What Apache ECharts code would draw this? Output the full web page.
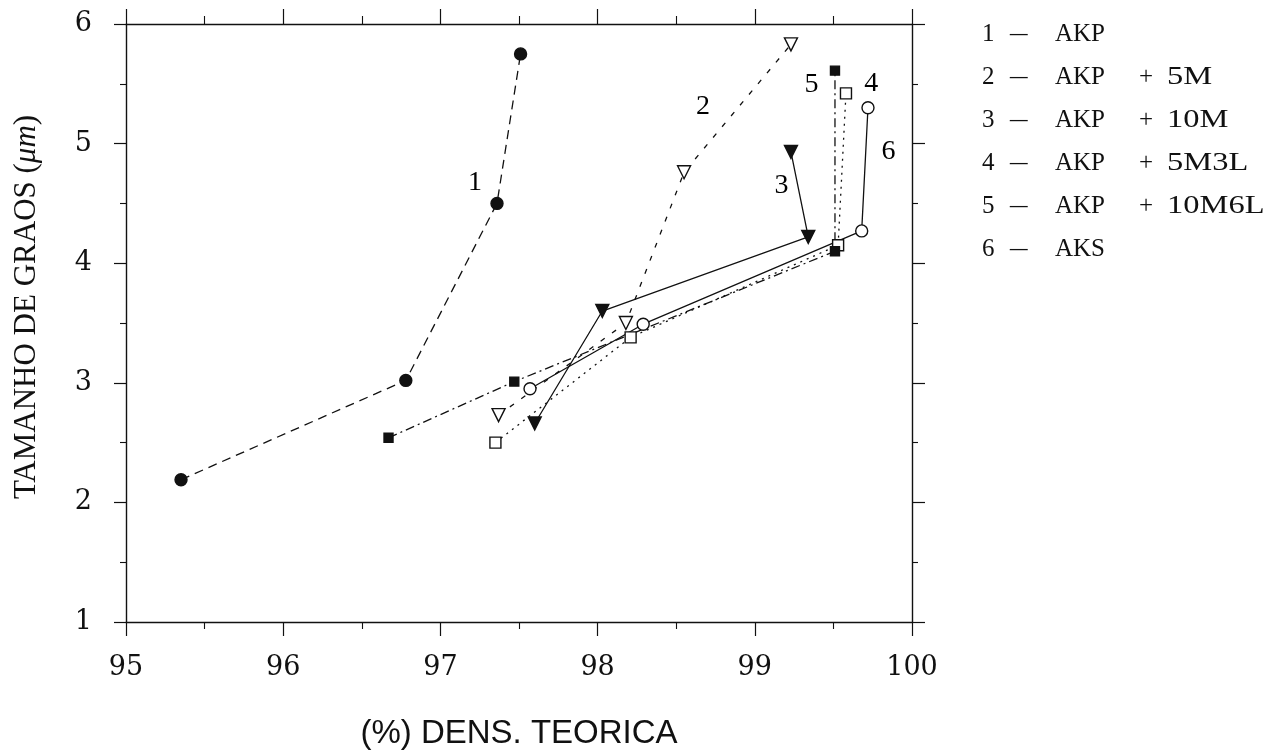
<!DOCTYPE html>
<html>
<head>
<meta charset="utf-8">
<script src="https://cdn.jsdelivr.net/npm/echarts@6/dist/echarts.min.js"></script>
<style>
  html, body { margin: 0; padding: 0; background: #fff; }
  #chart { width: 1284px; height: 755px; }
</style>
</head>
<body>
<div id="chart"></div>
<script>
// Grain size versus relative density for six alumina compositions
const xTicks = [95, 96, 97, 98, 99, 100];
const yTicks = [1, 2, 3, 4, 5, 6];

const akp       = [[95.35, 2.19], [96.78, 3.02], [97.36, 4.50], [97.51, 5.75]];
const akp5M     = [[97.37, 2.73], [98.18, 3.50], [98.55, 4.76], [99.23, 5.83]];
const akp10M    = [[97.60, 2.66], [98.03, 3.60], [99.34, 4.22], [99.23, 4.93]];
const akp5M3L   = [[97.35, 2.50], [98.21, 3.38], [99.53, 4.15], [99.58, 5.42]];
const akp10M6L  = [[96.67, 2.54], [97.47, 3.01], [99.51, 4.10], [99.51, 5.61]];
const aks       = [[97.57, 2.95], [98.29, 3.49], [99.68, 4.27], [99.72, 5.30]];

// curve numbers written next to each curve
const curveTags = [
  { name: '1', value: [97.22, 4.67] },
  { name: '2', value: [98.67, 5.31] },
  { name: '3', value: [99.17, 4.65] },
  { name: '4', value: [99.74, 5.50] },
  { name: '5', value: [99.36, 5.49] },
  { name: '6', value: [99.85, 4.93] }
];

// key on the right: curve number, base powder, additive
const keyNumbers = ['1', '2', '3', '4', '5', '6'];
const keyBases = ['AKP', 'AKP', 'AKP', 'AKP', 'AKP', 'AKS'];
const keyAdditives = ['', '5M', '10M', '5M3L', '10M6L', ''];

const serif = '"Liberation Serif", "DejaVu Serif", serif';
const wideSerif = '"DejaVu Serif", "Liberation Serif", serif';
const sans = '"Liberation Sans", "DejaVu Sans", sans-serif';
const ink = '#111';

function series(name, data, dash, symbol, size, filled, rotate) {
  return {
    name: name,
    type: 'line',
    data: data,
    symbol: symbol,
    symbolSize: size,
    symbolRotate: rotate || 0,
    showAllSymbol: true,
    lineStyle: { color: ink, width: 1.3, type: dash },
    itemStyle: {
      color: filled ? ink : '#fff',
      borderColor: ink,
      borderWidth: 1.4
    },
    emphasis: { disabled: true },
    z: 3
  };
}

const axisBase = {
  type: 'value',
  axisLine: { show: true, onZero: false, lineStyle: { color: ink, width: 1.4 } },
  splitLine: { show: false },
  minorSplitLine: { show: false }
};

function keyRow(i) {
  const top = 22 + i * 43;
  const txt = { fontFamily: serif, fontSize: 25, fill: ink };
  const parts = [
    { type: 'text', x: 982, y: top, style: Object.assign({ text: keyNumbers[i] }, txt) },
    { type: 'text', x: 1010, y: top, scaleX: 1.4, style: Object.assign({ text: '\u2013' }, txt) },
    { type: 'text', x: 1055, y: top, style: Object.assign({ text: keyBases[i] }, txt) }
  ];
  if (keyAdditives[i]) {
    parts.push({ type: 'text', x: 1139, y: top, style: Object.assign({ text: '+' }, txt) });
    parts.push({ type: 'text', x: 1167, y: top, scaleX: 1.3, style: Object.assign({ text: keyAdditives[i] }, txt) });
  }
  return parts;
}

const chart = echarts.init(document.getElementById('chart'), null, { renderer: 'canvas' });

chart.setOption({
  backgroundColor: '#fff',
  animation: false,
  grid: { left: 126, right: 372, top: 24, bottom: 133, containLabel: false, outerBoundsMode: 'none' },
  xAxis: [
    Object.assign({}, axisBase, {
      position: 'bottom', min: xTicks[0], max: xTicks[xTicks.length - 1], interval: 1,
      axisTick: { show: true, inside: false, length: 14, lineStyle: { color: ink, width: 1.2 } },
      minorTick: { show: true, splitNumber: 2, length: 7, lineStyle: { color: ink, width: 1.1 } },
      axisLabel: { show: true, margin: 32, fontFamily: wideSerif, fontSize: 27, color: ink },
      name: '(%) DENS. TEORICA', nameLocation: 'middle', nameGap: 95,
      nameTextStyle: { fontFamily: sans, fontSize: 33, color: ink }
    }),
    Object.assign({}, axisBase, {
      position: 'top', min: xTicks[0], max: xTicks[xTicks.length - 1], interval: 1,
      axisTick: { show: true, inside: false, length: 15, lineStyle: { color: ink, width: 1.2 } },
      minorTick: { show: true, splitNumber: 2, length: 8, lineStyle: { color: ink, width: 1.1 } },
      axisLabel: { show: false }
    })
  ],
  yAxis: [
    Object.assign({}, axisBase, {
      position: 'left', min: yTicks[0], max: yTicks[yTicks.length - 1], interval: 1,
      axisTick: { show: true, inside: false, length: 12, lineStyle: { color: ink, width: 1.2 } },
      minorTick: { show: true, splitNumber: 2, length: 6, lineStyle: { color: ink, width: 1.1 } },
      axisLabel: { show: true, margin: 34, fontFamily: wideSerif, fontSize: 27, color: ink },
      name: '{t|TAMANHO DE GRAOS (}{m|\u03BCm}{t|)}', nameLocation: 'middle', nameGap: 84, nameRotate: 90,
      nameTextStyle: {
        padding: [0, 0, 0, 32],
        rich: {
          t: { fontFamily: serif, fontSize: 31, color: ink },
          m: { fontFamily: serif, fontSize: 31, fontStyle: 'italic', color: ink }
        }
      }
    }),
    Object.assign({}, axisBase, {
      position: 'right', min: yTicks[0], max: yTicks[yTicks.length - 1], interval: 1,
      axisTick: { show: true, inside: false, length: 13, lineStyle: { color: ink, width: 1.2 } },
      minorTick: { show: true, splitNumber: 2, length: 6, lineStyle: { color: ink, width: 1.1 } },
      axisLabel: { show: false }
    })
  ],
  series: [
    series('1 - AKP', akp, [9, 6], 'circle', 12, true),
    series('2 - AKP + 5M', akp5M, [5, 9], 'triangle', 13, false, 180),
    series('3 - AKP + 10M', akp10M, 'solid', 'triangle', 13, true, 180),
    series('4 - AKP + 5M3L', akp5M3L, [2, 5], 'rect', 11, false),
    series('5 - AKP + 10M6L', akp10M6L, [9, 4, 2, 4], 'rect', 9, true),
    series('6 - AKS', aks, 'solid', 'circle', 12, false),
    {
      name: 'tags',
      type: 'scatter',
      data: curveTags,
      symbolSize: 1,
      itemStyle: { opacity: 0 },
      silent: true,
      label: {
        show: true, position: 'inside', formatter: '{b}', opacity: 1,
        fontFamily: serif, fontSize: 28, color: '#000', textBorderWidth: 0
      },
      z: 4
    }
  ],
  graphic: [].concat.apply([], keyNumbers.map(function (n, i) { return keyRow(i); }))
});
</script>
</body>
</html>
